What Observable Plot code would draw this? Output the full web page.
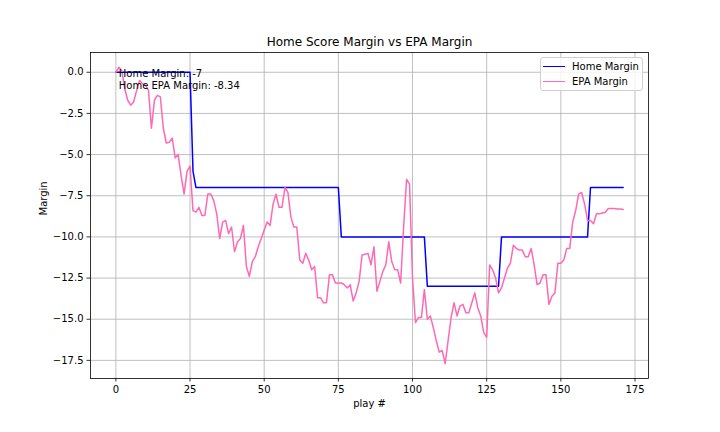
<!DOCTYPE html>
<html>
<head>
<meta charset="utf-8">
<script src="https://cdn.jsdelivr.net/npm/d3@7"></script>
<script src="https://cdn.jsdelivr.net/npm/@observablehq/plot@0.6"></script>
<style>
  html, body { margin: 0; padding: 0; background: #fff; }
  #wrap { position: relative; width: 720px; height: 432px; font-family: "DejaVu Sans", sans-serif; }
  #legend { position: absolute; left: 540px; top: 57px; width: 101px; height: 32px;
    border: 1px solid #d0d0d0; border-radius: 3px; background: rgba(255,255,255,0.8);
    font-size: 10px; color: #000; }
  .row { position: absolute; left: 0; height: 12px; display: flex; align-items: center; }
  .sw { display: inline-block; width: 22px; height: 0; border-top: 1.5px solid; margin-left: 2px; margin-right: 7px; }
</style>
</head>
<body>
<div id="wrap">
  <div id="chart"></div>
  <div id="legend">
    <div class="row" style="top:2px"><span class="sw" style="border-color:#0000ff"></span><span>Home Margin</span></div>
    <div class="row" style="top:17px"><span class="sw" style="border-color:#ff69b4"></span><span>EPA Margin</span></div>
  </div>
</div>
<script>
const title = "Home Score Margin vs EPA Margin";
const xLabel = "play #";
const yLabel = "Margin";
const annotation = ["Home Margin: -7", "Home EPA Margin: -8.34"];
const xTicks = [0, 25, 50, 75, 100, 125, 150, 175];
const yTicks = [0, -2.5, -5, -7.5, -10, -12.5, -15, -17.5];

// Home score margin by play (index = play #)
const homeMargin = [
  0,0,0,0,0,0,0,0,0,0, 0,0,0,0,0,0,0,0,0,0, 0,0,0,0,0,0,-6,-7,-7,-7,
  -7,-7,-7,-7,-7,-7,-7,-7,-7,-7, -7,-7,-7,-7,-7,-7,-7,-7,-7,-7,
  -7,-7,-7,-7,-7,-7,-7,-7,-7,-7, -7,-7,-7,-7,-7,-7,-7,-7,-7,-7,
  -7,-7,-7,-7,-7,-7,-10,-10,-10,-10, -10,-10,-10,-10,-10,-10,-10,-10,-10,-10,
  -10,-10,-10,-10,-10,-10,-10,-10,-10,-10, -10,-10,-10,-10,-10,-13,-13,-13,-13,-13,
  -13,-13,-13,-13,-13,-13,-13,-13,-13,-13, -13,-13,-13,-13,-13,-13,-13,-13,-13,-13,
  -10,-10,-10,-10,-10,-10,-10,-10,-10,-10, -10,-10,-10,-10,-10,-10,-10,-10,-10,-10,
  -10,-10,-10,-10,-10,-10,-10,-10,-10,-10, -7,-7,-7,-7,-7,-7,-7,-7,-7,-7,
  -7,-7
];

// Home EPA margin by play (index = play #)
const epaMargin = [
  0.0, 0.3, 0.1, -1.0, -1.7, -2.0, -1.8, -1.1, -0.5, -0.7,
  -0.8, -1.1, -3.4, -1.7, -1.4, -1.5, -3.4, -4.3, -4.25, -4.0,
  -5.2, -5.0, -6.3, -7.4, -6.0, -5.7, -8.4, -8.5, -8.2, -8.7,
  -8.7, -7.4, -7.4, -7.8, -8.6, -10.1, -9.1, -9.0, -9.8, -9.4,
  -10.9, -10.3, -10.1, -9.3, -11.8, -12.4, -11.5, -11.2, -10.6, -10.1,
  -9.6, -9.1, -9.3, -8.0, -7.4, -8.2, -8.2, -7.0, -7.3, -8.8,
  -9.4, -9.4, -11.4, -11.6, -11.0, -11.4, -12.0, -11.8, -13.7, -13.7,
  -14.0, -14.0, -12.3, -12.3, -12.8, -12.8, -12.8, -12.9, -13.1, -12.9,
  -13.9, -13.4, -12.7, -11.1, -11.05, -11.0, -11.7, -10.6, -13.3, -12.7,
  -12.1, -11.7, -10.3, -11.5, -12.0, -12.0, -12.8, -9.4, -6.5, -6.8,
  -12.5, -15.2, -14.9, -14.9, -13.2, -15.0, -14.8, -15.5, -16.3, -17.0,
  -16.9, -17.7, -16.3, -14.9, -14.0, -14.8, -14.2, -14.1, -14.6, -14.6,
  -14.0, -13.4, -14.3, -14.8, -15.8, -16.1, -11.7, -12.0, -12.5, -13.4,
  -13.1, -12.5, -11.9, -11.6, -10.5, -10.7, -10.8, -10.8, -11.2, -11.2,
  -10.7, -11.7, -12.9, -12.8, -12.3, -12.3, -14.1, -13.6, -13.4, -11.6,
  -11.6, -11.4, -10.7, -10.7, -9.1, -8.4, -7.4, -7.3, -8.0, -9.0,
  -9.0, -9.2, -8.6, -8.6, -8.55, -8.5, -8.27, -8.27, -8.27, -8.3,
  -8.3, -8.34
];

const home = homeMargin.map((v, i) => ({play: i, value: v}));
const epa = epaMargin.map((v, i) => ({play: i, value: v}));
const fmt = d3.format(".1f");
const font = "DejaVu Sans, sans-serif";

const chart = Plot.plot({
  width: 720,
  height: 432,
  marginLeft: 90,
  marginRight: 72,
  marginTop: 52,
  marginBottom: 54,
  style: {fontFamily: font, fontSize: "10px", color: "#000", background: "#fff"},
  x: {domain: [-8.55, 179.55]},
  y: {domain: [-18.6, 1.2]},
  marks: [
    Plot.gridX(xTicks, {stroke: "#b0b0b0", strokeOpacity: 1, strokeWidth: 0.8}),
    Plot.gridY(yTicks, {stroke: "#b0b0b0", strokeOpacity: 1, strokeWidth: 0.8}),
    Plot.line(home, {x: "play", y: "value", stroke: "#0000ff", strokeWidth: 1.5}),
    Plot.line(epa, {x: "play", y: "value", stroke: "#ff69b4", strokeWidth: 1.5}),
    Plot.frame({stroke: "#000", strokeWidth: 0.8}),
    Plot.axisX(xTicks, {tickSize: 3.5, tickPadding: 3.5, fontSize: 10, label: null, stroke: "#000", strokeWidth: 0.8}),
    Plot.axisY(yTicks, {tickSize: 3.5, tickPadding: 3.5, fontSize: 10, label: null, tickFormat: fmt, stroke: "#000", strokeWidth: 0.8}),
    Plot.text([xLabel], {frameAnchor: "bottom", lineAnchor: "middle", dy: 25, fontSize: 10, fill: "#000"}),
    Plot.text([yLabel], {frameAnchor: "left", dx: -47, rotate: -90, fontSize: 10, fill: "#000"}),
    Plot.text([title], {frameAnchor: "top", lineAnchor: "middle", dy: -10, fontSize: 12, fill: "#000"}),
    Plot.text([annotation.join("\n")], {x: 1, y: -1, textAnchor: "start", lineAnchor: "bottom", fontSize: 10, lineHeight: 1.2, fill: "#000"})
  ]
});
document.getElementById("chart").appendChild(chart);
</script>
</body>
</html>
